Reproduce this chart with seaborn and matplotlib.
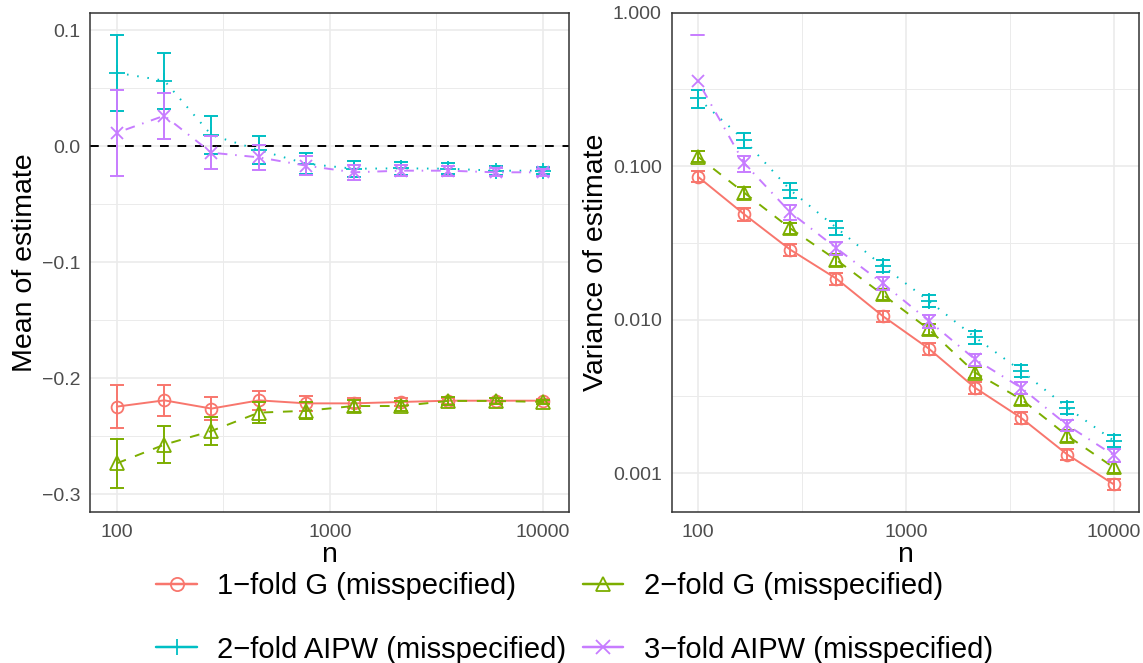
import numpy as np
import pandas as pd
import matplotlib
matplotlib.use("Agg")
import matplotlib.pyplot as plt
from matplotlib.lines import Line2D
from matplotlib.ticker import FixedLocator, FixedFormatter, NullFormatter
import seaborn as sns

# ---------------- data ----------------
n_values = [100, 167, 278, 464, 774, 1292, 2154, 3594, 5995, 10000]
methods = ["1\u2212fold G (misspecified)", "2\u2212fold G (misspecified)",
           "2\u2212fold AIPW (misspecified)", "3\u2212fold AIPW (misspecified)"]

mean_g1 = [-0.2244, -0.2190, -0.2261, -0.2190, -0.2216, -0.2216, -0.2204, -0.2193, -0.2193, -0.2193]
mean_g1_se = [0.0184, 0.0134, 0.0100, 0.0084, 0.0062, 0.0043, 0.0032, 0.0025, 0.0019, 0.0015]
mean_g2 = [-0.2733, -0.2572, -0.2454, -0.2296, -0.2280, -0.2239, -0.2239, -0.2195, -0.2195, -0.2204]
mean_g2_se = [0.0210, 0.0160, 0.0124, 0.0089, 0.0075, 0.0055, 0.0043, 0.0033, 0.0025, 0.0020]
mean_a2 = [0.0634, 0.0566, 0.0097, -0.0032, -0.0150, -0.0193, -0.0190, -0.0193, -0.0210, -0.0210]
mean_a2_se = [0.0328, 0.0240, 0.0167, 0.0123, 0.0092, 0.0069, 0.0055, 0.0045, 0.0038, 0.0032]
mean_a3 = [0.0117, 0.0264, -0.0055, -0.0095, -0.0167, -0.0224, -0.0210, -0.0210, -0.0224, -0.0224]
mean_a3_se = [0.0370, 0.0200, 0.0140, 0.0105, 0.0082, 0.0065, 0.0050, 0.0042, 0.0035, 0.0028]

var_g1 = [0.0855, 0.0486, 0.0286, 0.0185, 0.01057, 0.00647, 0.00360, 0.00229, 0.00132, 0.000847]
var_g1_se = [0.0072, 0.0045, 0.0025, 0.0016, 0.0009, 0.00055, 0.0003, 0.0002, 0.00011, 0.00007]
var_g2 = [0.1153, 0.0672, 0.0394, 0.0245, 0.0146, 0.00865, 0.00452, 0.00303, 0.00175, 0.00109]
var_g2_se = [0.0095, 0.0057, 0.0034, 0.0021, 0.0012, 0.00072, 0.00038, 0.00026, 0.00015, 0.00009]
var_a2 = [0.277, 0.148, 0.070, 0.0397, 0.0224, 0.01324, 0.00768, 0.00464, 0.00267, 0.00163]
var_a2_se = [0.037, 0.0175, 0.0075, 0.0040, 0.0021, 0.0012, 0.0007, 0.0004, 0.00024, 0.00015]
var_a3 = [0.359, 0.1045, 0.0501, 0.0292, 0.01726, 0.00981, 0.00552, 0.0036, 0.00205, 0.00131]
var_a3_se = [0.360, 0.0128, 0.0055, 0.0030, 0.0017, 0.00095, 0.0005, 0.00032, 0.00018, 0.00012]

mean_ticks = [0.1, 0.0, -0.1, -0.2, -0.3]
mean_tick_labels = ["0.1", "0.0", "\u22120.1", "\u22120.2", "\u22120.3"]
var_ticks = [1.0, 0.1, 0.01, 0.001]
var_tick_labels = ["1.000", "0.100", "0.010", "0.001"]
x_ticks = [100, 1000, 10000]
x_tick_labels = ["100", "1000", "10000"]

colors = ["#F8766D", "#7CAE00", "#00BFC4", "#C77CFF"]
markers = ["o", "^", "+", "x"]
msizes = [8.5, 9.5, 11, 8.5]
LW = 1.4
linestyles = ["-", (0, (5, 5)), (0, (0.8, 4.5)), (0, (0.8, 4, 5, 4))]

rows = []
series = [(mean_g1, mean_g1_se, var_g1, var_g1_se),
          (mean_g2, mean_g2_se, var_g2, var_g2_se),
          (mean_a2, mean_a2_se, var_a2, var_a2_se),
          (mean_a3, mean_a3_se, var_a3, var_a3_se)]
for m, (mu, mse, v, vse) in zip(methods, series):
    for i, n in enumerate(n_values):
        rows.append(dict(method=m, n=n, mean=mu[i], mean_se=mse[i], var=v[i], var_se=vse[i]))
df = pd.DataFrame(rows)

# ---------------- style ----------------
sns.set_style("white")
plt.rcParams["font.family"] = ["Liberation Sans", "DejaVu Sans"]
plt.rcParams["text.color"] = "black"
plt.rcParams["axes.labelcolor"] = "black"

W, H = 1143, 663
fig = plt.figure(figsize=(W / 100, H / 100), dpi=100)
bottom = 1 - 511.7 / H
height = (511.7 - 12.7) / H
ax1 = fig.add_axes([90 / W, bottom, (569 - 90) / W, height])
ax2 = fig.add_axes([671.7 / W, bottom, (1139 - 671.7) / W, height])

for ax in (ax1, ax2):
    ax.set_xscale("log")
    ax.set_xlim(10 ** 1.874, 10 ** 4.122)
ax1.set_ylim(-0.315, 0.1152)
ax2.set_yscale("log")
ax2.set_ylim(10 ** -3.251, 1.0)

# dashed zero line
ax1.axhline(0, color="black", lw=1.4, linestyle=(0, (4.5, 4.5)), zorder=2)

cap_half = 10 ** 0.031
for k, m in enumerate(methods):
    sub = df[df.method == m]
    c = colors[k]
    for ax, ycol, secol in ((ax1, "mean", "mean_se"), (ax2, "var", "var_se")):
        sns.lineplot(data=sub, x="n", y=ycol, ax=ax, color=c, marker=markers[k],
                     markersize=msizes[k], markerfacecolor="none", markeredgecolor=c,
                     markeredgewidth=1.3, linewidth=LW, linestyle=linestyles[k],
                     errorbar=None, legend=False, sort=False, zorder=3 + k)
        y = sub[ycol].to_numpy()
        se = sub[secol].to_numpy()
        nn = sub["n"].to_numpy()
        lo = y - se
        ok = lo > 0 if ax is ax2 else np.ones_like(y, dtype=bool)
        ax.errorbar(nn[ok], y[ok], yerr=se[ok], fmt="none", ecolor=c,
                    elinewidth=LW, capsize=4.7, capthick=LW, zorder=3 + k)
        for xi, hi in zip(nn[~ok], (y + se)[~ok]):
            ax.plot([xi / cap_half, xi * cap_half], [hi, hi], color=c, lw=LW, zorder=3 + k)

# ---------------- axes cosmetics ----------------
grid_c = "#EBEBEB"
for ax in (ax1, ax2):
    ax.xaxis.set_major_locator(FixedLocator(x_ticks))
    ax.xaxis.set_major_formatter(FixedFormatter(x_tick_labels))
    ax.xaxis.set_minor_locator(FixedLocator([10 ** 2.5, 10 ** 3.5]))
    ax.xaxis.set_minor_formatter(NullFormatter())
    ax.grid(True, which="major", color=grid_c, lw=1.2, zorder=0)
    ax.grid(True, which="minor", color=grid_c, lw=0.7, zorder=0)
    ax.set_axisbelow(True)
    for s in ax.spines.values():
        s.set_color("#333333")
        s.set_linewidth(1.1)
    ax.tick_params(which="major", length=3.6, width=1.0, color="#333333",
                   labelsize=14, labelcolor="#4D4D4D", pad=3.5)
    ax.tick_params(axis="x", which="major", pad=5)
    ax.tick_params(which="minor", length=0)
    ax.set_xlabel("n", fontsize=20.5, labelpad=1)

ax1.yaxis.set_major_locator(FixedLocator(mean_ticks))
ax1.yaxis.set_major_formatter(FixedFormatter(mean_tick_labels))
ax1.yaxis.set_minor_locator(FixedLocator([0.05, -0.05, -0.15, -0.25]))
ax1.set_ylabel("Mean of estimate", fontsize=20.5, labelpad=2.5)

ax2.yaxis.set_major_locator(FixedLocator(var_ticks))
ax2.yaxis.set_major_formatter(FixedFormatter(var_tick_labels))
ax2.yaxis.set_minor_locator(FixedLocator([10 ** -0.5, 10 ** -1.5, 10 ** -2.5]))
ax2.yaxis.set_minor_formatter(NullFormatter())
ax2.set_ylabel("Variance of estimate", fontsize=20.5, labelpad=2.5)

# ---------------- legend ----------------
handles = [Line2D([], [], color=colors[k], marker=markers[k], markersize=msizes[k] + 1,
                  markerfacecolor="none", markeredgecolor=colors[k], markeredgewidth=1.3,
                  lw=LW + 0.4, linestyle="-") for k in range(4)]
order = [0, 2, 1, 3]
fig.legend([handles[i] for i in order], [methods[i] for i in order], ncol=2,
           loc="center", bbox_to_anchor=(574.5 / W, 1 - 618 / H), frameon=False,
           fontsize=21, handlelength=1.4, handletextpad=0.7, columnspacing=0.55,
           labelspacing=1.2, borderpad=0, borderaxespad=0)

fig.savefig("out.png", dpi=100)
